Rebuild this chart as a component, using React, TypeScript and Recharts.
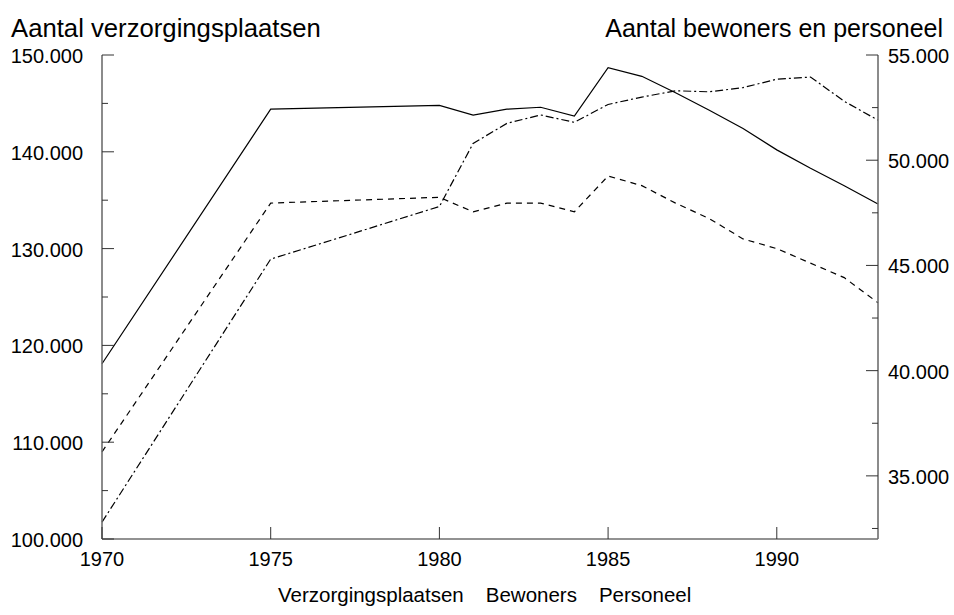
import React from "react";
import { LineChart, Line, XAxis, YAxis } from "recharts";

const years = [1970, 1975, 1980, 1981, 1982, 1983, 1984, 1985, 1986, 1987, 1988, 1989, 1990, 1991, 1992, 1993];
const plaatsen = [118100, 144400, 144800, 143800, 144400, 144600, 143700, 148700, 147800, 146100, 144300, 142400, 140200, 138300, 136500, 134600];
const bewoners = [109000, 134700, 135300, 133800, 134700, 134700, 133800, 137500, 136500, 134700, 133100, 131000, 130000, 128500, 127000, 124400];
const personeel = [32800, 45300, 47800, 50800, 51750, 52150, 51800, 52650, 53000, 53300, 53250, 53450, 53850, 53950, 52800, 51900];

const xTicks = [1970, 1975, 1980, 1985, 1990];
const leftTicks = [100000, 105000, 110000, 115000, 120000, 125000, 130000, 135000, 140000, 145000, 150000];
const rightTicks = [32500, 35000, 37500, 40000, 42500, 45000, 47500, 50000, 52500, 55000];

const data = years.map((y, i) => ({
  year: y,
  plaatsen: plaatsen[i],
  bewoners: bewoners[i],
  personeel: personeel[i],
}));

const FONT = '"Liberation Sans", Arial, Helvetica, sans-serif';

// dutch thousands: 150000 -> 150.000
const fmt = (v: number) => `${Math.floor(v / 1000)}.${String(v % 1000).padStart(3, "0")}`;

const LeftTick = (props: any) => {
  const { x, y, payload } = props;
  const major = payload.value % 10000 === 0;
  return (
    <g>
      <line x1={x} y1={y} x2={x + (major ? 12 : 6)} y2={y} stroke="#333" strokeWidth={1} />
      {major && (
        <text x={x - 19} y={y + 8} textAnchor="end" fontSize={20} fill="#000" fontFamily={FONT}>
          {fmt(payload.value)}
        </text>
      )}
    </g>
  );
};

const RightTick = (props: any) => {
  const { x, y, payload } = props;
  const major = payload.value % 5000 === 0;
  return (
    <g>
      <line x1={x} y1={y} x2={x - (major ? 12 : 6)} y2={y} stroke="#333" strokeWidth={1} />
      {major && (
        <text x={x + 10} y={y + 8} textAnchor="start" fontSize={20} fill="#000" fontFamily={FONT}>
          {fmt(payload.value)}
        </text>
      )}
    </g>
  );
};

const BottomTick = (props: any) => {
  const { x, y, payload } = props;
  return (
    <g>
      <line x1={x} y1={y} x2={x} y2={y - 12} stroke="#333" strokeWidth={1} />
      <text x={x} y={y + 27} textAnchor="middle" fontSize={20} fill="#000" fontFamily={FONT}>
        {payload.value}
      </text>
    </g>
  );
};

const legendItems = ["Verzorgingsplaatsen", "Bewoners", "Personeel"];

export default function App() {
  return (
    <div style={{ position: "absolute", left: 0, top: 0, width: 954, height: 615, background: "#fff", fontFamily: FONT }}>
      <div style={{ position: "absolute", left: 11, top: 14, fontSize: 25.7, color: "#000", whiteSpace: "nowrap" }}>
        Aantal verzorgingsplaatsen
      </div>
      <div style={{ position: "absolute", right: 11, top: 14, fontSize: 25, color: "#000", whiteSpace: "nowrap" }}>
        Aantal bewoners en personeel
      </div>

      <LineChart width={954} height={615} data={data} margin={{ top: 55, right: 0, bottom: 0, left: 0 }}>
        <XAxis
          dataKey="year"
          type="number"
          domain={[1970, 1993]}
          ticks={xTicks}
          height={76}
          tickSize={0}
          tickMargin={0}
          tickLine={false}
          tick={(p: any) => <BottomTick {...p} />}
          axisLine={{ stroke: "#6e6e6e", strokeWidth: 1.6 }}
          interval={0}
        />
        <YAxis
          yAxisId="left"
          orientation="left"
          domain={[100000, 150000]}
          ticks={leftTicks}
          width={102}
          tickSize={0}
          tickMargin={0}
          tickLine={false}
          tick={(p: any) => <LeftTick {...p} />}
          axisLine={{ stroke: "#6e6e6e", strokeWidth: 1.6 }}
          interval={0}
        />
        <YAxis
          yAxisId="right"
          orientation="right"
          domain={[32000, 55000]}
          ticks={rightTicks}
          width={76}
          tickSize={0}
          tickMargin={0}
          tickLine={false}
          tick={(p: any) => <RightTick {...p} />}
          axisLine={{ stroke: "#6e6e6e", strokeWidth: 1.6 }}
          interval={0}
        />
        <Line yAxisId="left" dataKey="plaatsen" name="Verzorgingsplaatsen" stroke="#000" strokeWidth={1.2} dot={false} isAnimationActive={false} type="linear" />
        <Line yAxisId="left" dataKey="bewoners" name="Bewoners" stroke="#000" strokeWidth={1.2} strokeDasharray="6 5" dot={false} isAnimationActive={false} type="linear" />
        <Line yAxisId="right" dataKey="personeel" name="Personeel" stroke="#000" strokeWidth={1.2} strokeDasharray="8 3 2 3" dot={false} isAnimationActive={false} type="linear" />
      </LineChart>

      {/* legend: text only, no symbols */}
      <div
        style={{
          position: "absolute",
          left: 278,
          top: 583,
          display: "flex",
          gap: 22,
          fontSize: 20.5,
          color: "#000",
          whiteSpace: "nowrap",
        }}
      >
        {legendItems.map((t) => (
          <span key={t}>{t}</span>
        ))}
      </div>
    </div>
  );
}
